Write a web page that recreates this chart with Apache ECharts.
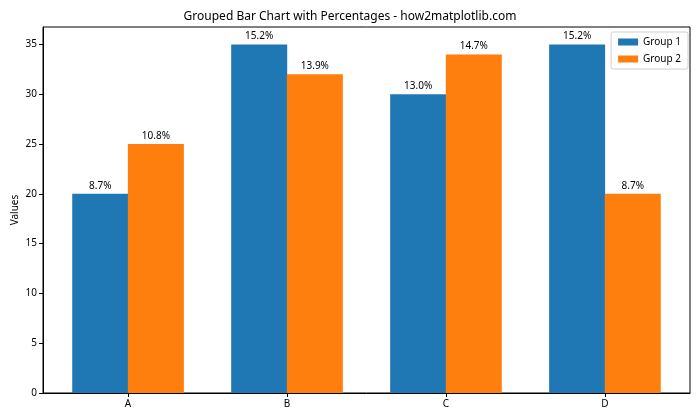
<!DOCTYPE html>
<html>
<head>
<meta charset="utf-8">
<script src="https://cdn.jsdelivr.net/npm/echarts@6/dist/echarts.min.js"></script>
<style>html,body{margin:0;padding:0;background:#fff}#c{width:700px;height:420px}</style>
</head>
<body>
<div id="c"></div>
<script>
const categories = ['A', 'B', 'C', 'D'];
const group1 = [20, 35, 30, 35];
const group2 = [25, 32, 34, 20];
const yTicks = [0, 5, 10, 15, 20, 25, 30, 35];
const seriesNames = ['Group 1', 'Group 2'];

const total = group1.concat(group2).reduce((a, b) => a + b, 0);
const FONT = 'Noto Sans';
const chart = echarts.init(document.getElementById('c'), null, {renderer: 'canvas'});
const offset = 0.175;
function mk(name, vals, dx, color) {
  return {
    name: name, type: 'bar', barWidth: 56, barGap: '-100%',
    itemStyle: {color: color},
    data: vals.map((v, i) => [i + dx, v]),
    label: {show: true, position: 'top', distance: 3, color: '#000', fontFamily: FONT, fontSize: 10,
      formatter: p => (p.value[1] / total * 100).toFixed(1) + '%'},
    emphasis: {disabled: true}, animation: false
  };
}
chart.setOption({
  animation: false,
  title: {text: 'Grouped Bar Chart with Percentages - how2matplotlib.com', left: 'center', top: 6,
    textStyle: {fontFamily: FONT, fontSize: 12, fontWeight: 'normal', color: '#000'}},
  legend: {right: 12, top: 32, orient: 'vertical', itemWidth: 20, itemHeight: 7, itemGap: 7,
    padding: [5, 7, 5, 7], borderColor: '#d0d0d0', borderWidth: 1, borderRadius: 2,
    textStyle: {fontFamily: FONT, fontSize: 10, color: '#000'}, icon: 'rect', data: seriesNames},
  grid: {left: 43, right: 10, top: 27, bottom: 27, show: true, borderColor: '#000', borderWidth: 1,
    containLabel: false, outerBoundsMode: 'none'},
  xAxis: {type: 'value', min: -0.535, max: 3.535, splitLine: {show: false},
    axisLine: {show: true, onZero: false, lineStyle: {color: '#000'}},
    axisTick: {show: true, customValues: [0, 1, 2, 3], length: 4, lineStyle: {color: '#000'}},
    axisLabel: {customValues: [0, 1, 2, 3], formatter: v => categories[Math.round(v)], color: '#000', fontFamily: FONT, fontSize: 10, margin: 6}},
  yAxis: {type: 'value', min: 0, max: 36.75, interval: 5, name: 'Values', nameLocation: 'middle', nameGap: 23,
    nameMoveOverlap: false,
    nameTextStyle: {fontFamily: FONT, fontSize: 10, color: '#000'},
    splitLine: {show: false},
    axisLine: {show: true, onZero: false, lineStyle: {color: '#000'}},
    axisTick: {show: true, customValues: yTicks, length: 4, lineStyle: {color: '#000'}},
    axisLabel: {customValues: yTicks, color: '#000', fontFamily: FONT, fontSize: 10, margin: 6}},
  series: [mk(seriesNames[0], group1, -offset, '#1f77b4'), mk(seriesNames[1], group2, offset, '#ff7f0e')]
});
</script>
</body>
</html>
